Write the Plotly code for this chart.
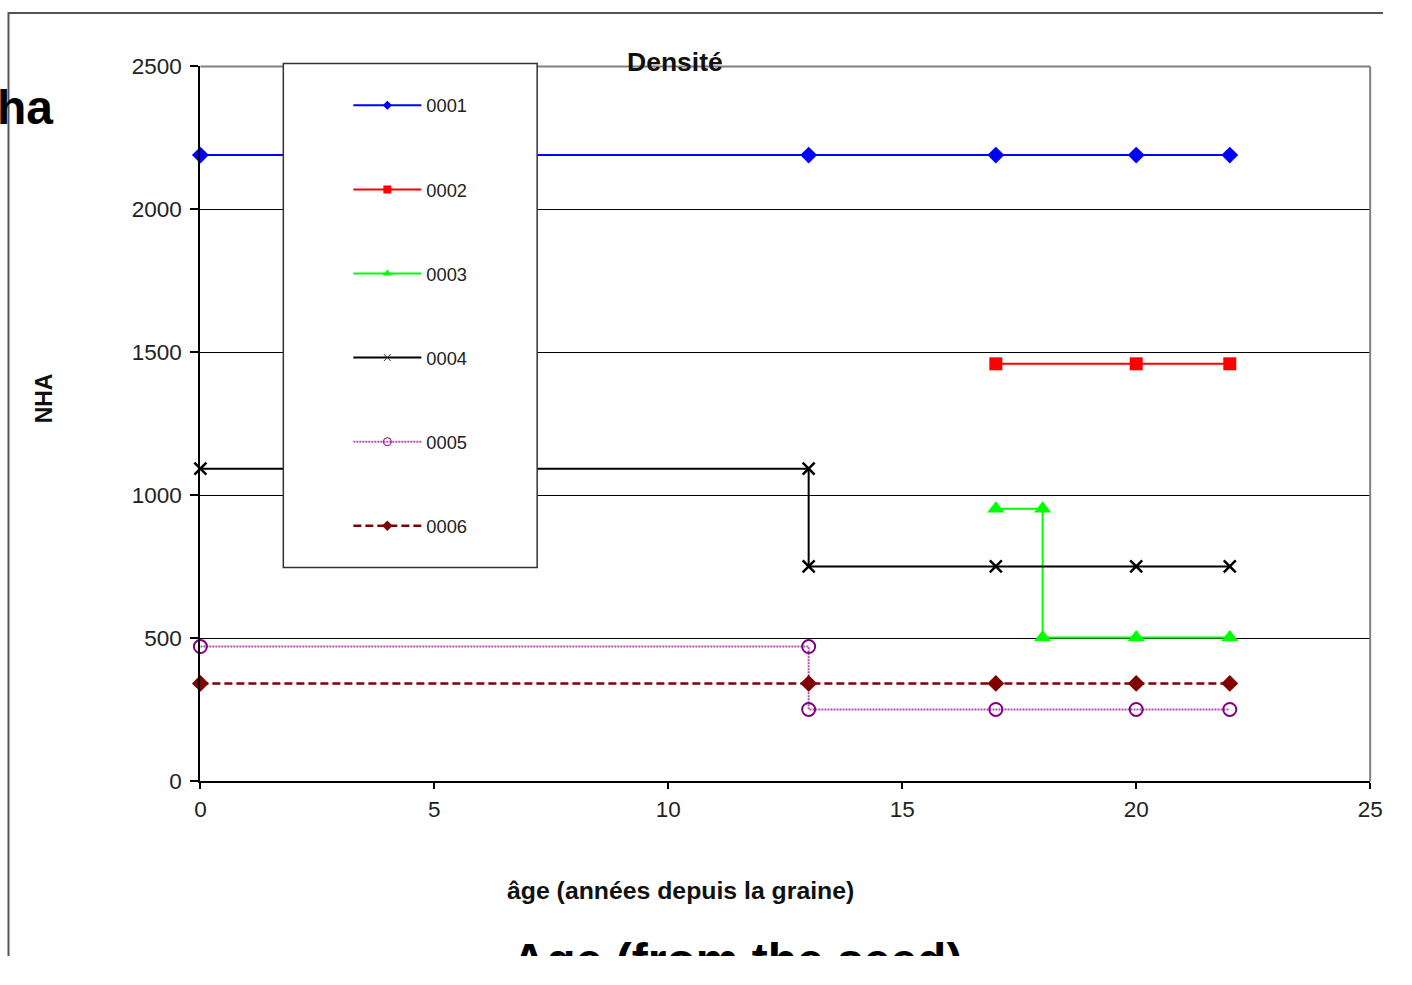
import plotly.graph_objects as go

# Figure size that fits the 1412x985 window together with the page's default margin.
W, H = 1396, 969
# measured mapping from figure pixels to picture pixels: picture = S * fig + B
SX, BX = 0.987, 5.5
SY, BY = 0.976, 11.4

# ---- data ----
series_names = ["0001", "0002", "0003", "0004", "0005", "0006"]
ages_0001 = [0, 13, 17, 20, 22]
nha_0001 = [2190, 2190, 2190, 2190, 2190]
ages_0002 = [17, 20, 22]
nha_0002 = [1460, 1460, 1460]
ages_0003 = [17, 18, 18, 20, 22]
nha_0003 = [953, 953, 503, 503, 503]
ages_0004 = [0, 13, 13, 17, 20, 22]
nha_0004 = [1093, 1093, 751, 751, 751, 751]
ages_0005 = [0, 13, 13, 17, 20, 22]
nha_0005 = [471, 471, 251, 251, 251, 251]
ages_0006 = [0, 13, 17, 20, 22]
nha_0006 = [342, 342, 342, 342, 342]

x_ticks = [0, 5, 10, 15, 20, 25]
y_ticks = [0, 500, 1000, 1500, 2000, 2500]

FONT = "Liberation Sans, Arial, sans-serif"


def fx(X):
    return (X - BX) / SX


def fy(Y):
    return (Y - BY) / SY


def px(X):
    return fx(X) / W


def py(Y):
    return 1 - fy(Y) / H


line_styles = [
    dict(color="#0000FF", width=2),
    dict(color="#FF0000", width=2),
    dict(color="#00FF00", width=2),
    dict(color="#000000", width=2),
    dict(color="#B050B0", width=2, dash="2px,1px"),
    dict(color="#800000", width=2.5, dash="8px,4px"),
]
marker_styles = [
    dict(symbol="diamond", size=13, color="#0000FF"),
    dict(symbol="square", size=13, color="#FF0000"),
    dict(symbol="triangle-up", size=15, color="#00FF00"),
    dict(symbol="x-thin", size=12, color="#000000", line=dict(color="#000000", width=2.5)),
    dict(symbol="circle-open", size=13, color="#800080", line=dict(color="#800080", width=2)),
    dict(symbol="diamond", size=13, color="#800000"),
]
legend_markers = [
    dict(symbol="diamond", size=7, color="#0000FF"),
    dict(symbol="square", size=8, color="#FF0000"),
    dict(symbol="triangle-up", size=8, color="#00FF00"),
    dict(symbol="x-thin", size=7, color="#333333", line=dict(color="#333333", width=1)),
    dict(symbol="circle-open", size=8, color="#800080", line=dict(color="#800080", width=1)),
    dict(symbol="diamond", size=8, color="#800000"),
]

xs = [ages_0001, ages_0002, ages_0003, ages_0004, ages_0005, ages_0006]
ys = [nha_0001, nha_0002, nha_0003, nha_0004, nha_0005, nha_0006]

fig = go.Figure()
for name, x, y, ls, ms in zip(series_names, xs, ys, line_styles, marker_styles):
    fig.add_trace(go.Scatter(x=x, y=y, name=name, mode="lines+markers", showlegend=False,
                             line=ls, marker=ms, cliponaxis=False))
# legend entries (small symbols, as in the original legend)
for name, ls, lm in zip(series_names, line_styles, legend_markers):
    fig.add_trace(go.Scatter(x=[None], y=[None], name=name, mode="lines+markers",
                             legendgroup=name, line=ls, marker=lm))

# big caption cut off by the bottom edge: text on a full-figure overlay (figure pixels),
# clipped at the figure's bottom edge
fig.add_trace(go.Scatter(x=[fx(737)], y=[fy(940) + 26.5], mode="text",
                         text=["<b>Age (from the seed)</b>"],
                         textfont=dict(family=FONT, size=48, color="#000000"),
                         textposition="middle center", xaxis="x2", yaxis="y2",
                         cliponaxis=True, showlegend=False, hoverinfo="skip"))

# plot area in picture pixels (right edge kept so the "25" label stays inside the figure)
X0, X1 = 200, 1370.5
YTOP, YBOT = 66, 782

tickfont = dict(family=FONT, size=22.5, color="#222222")
fig.update_layout(
    width=W, height=H,
    margin=dict(l=0, r=0, t=0, b=0),
    paper_bgcolor="white", plot_bgcolor="rgba(0,0,0,0)",
    font=dict(family=FONT, size=16, color="#222222"),
    showlegend=True,
    legend=dict(x=(fx(353) - 5) / W, y=1 - (fy(105) - 19) / H, xanchor="left", yanchor="top",
                bgcolor="rgba(0,0,0,0)", borderwidth=0, itemwidth=68,
                font=dict(family=FONT, size=18.3, color="#222222"),
                tracegroupgap=57.3, traceorder="grouped"),
    xaxis=dict(domain=[px(X0), px(X1)], range=[0, 25], tickvals=x_ticks,
               showgrid=False, zeroline=False, showline=True, linecolor="#000000", linewidth=2,
               ticks="outside", ticklen=6, tickcolor="#000000", tickwidth=1.5,
               ticklabelstandoff=1, tickfont=tickfont),
    yaxis=dict(domain=[py(YBOT), py(YTOP)], range=[0, 2500], tickvals=y_ticks,
               showgrid=True, gridcolor="#000000", gridwidth=1, zeroline=False,
               showline=True, linecolor="#000000", linewidth=2,
               ticks="outside", ticklen=8, tickcolor="#000000", tickwidth=1.5,
               ticklabelstandoff=4, tickfont=tickfont),
    xaxis2=dict(domain=[0, 1], range=[0, W], visible=False, anchor="y2", fixedrange=True),
    yaxis2=dict(domain=[0, 1], range=[H, 0], visible=False, anchor="x2", fixedrange=True),
)

shapes = [
    # plot area top and right borders (gray)
    dict(type="line", xref="x domain", yref="y domain", x0=0, x1=1, y0=1, y1=1,
         line=dict(color="#808080", width=2), layer="above"),
    dict(type="line", xref="x domain", yref="y domain", x0=1, x1=1, y0=0, y1=1,
         line=dict(color="#808080", width=2), layer="above"),
    # legend box
    dict(type="rect", xref="paper", yref="paper", x0=px(283), x1=px(537), y0=py(568), y1=py(63),
         fillcolor="white", line=dict(color="#333333", width=1.5), layer="above"),
    # outer frame
    dict(type="line", xref="paper", yref="paper", x0=px(8), x1=px(8), y0=0, y1=1,
         line=dict(color="#555555", width=2)),
    dict(type="line", xref="paper", yref="paper", x0=px(8), x1=1, y0=1 - 1 / H, y1=1 - 1 / H,
         line=dict(color="#555555", width=2)),
]
fig.update_layout(shapes=shapes)

annotations = [
    dict(text="<b>Densité</b>", x=px(675), y=py(61), xref="paper", yref="paper",
         showarrow=False, font=dict(family=FONT, size=26.5, color="#111111"), xanchor="center", yanchor="middle"),
    dict(text="<b>NHA</b>", x=px(43), y=py(398), xref="paper", yref="paper", textangle=-90,
         showarrow=False, font=dict(family=FONT, size=23, color="#111111"), xanchor="center", yanchor="middle"),
    dict(text="<b>âge (années depuis la graine)</b>", x=px(680), y=py(892), xref="paper", yref="paper",
         showarrow=False, font=dict(family=FONT, size=24.8, color="#111111"), xanchor="center", yanchor="middle"),
    dict(text="<b>ha</b>", x=px(55), y=py(107), xref="paper", yref="paper",
         showarrow=False, font=dict(family=FONT, size=48, color="#000000"), xanchor="right", yanchor="middle"),
]
fig.update_layout(annotations=annotations)

fig.write_html("out.html")
